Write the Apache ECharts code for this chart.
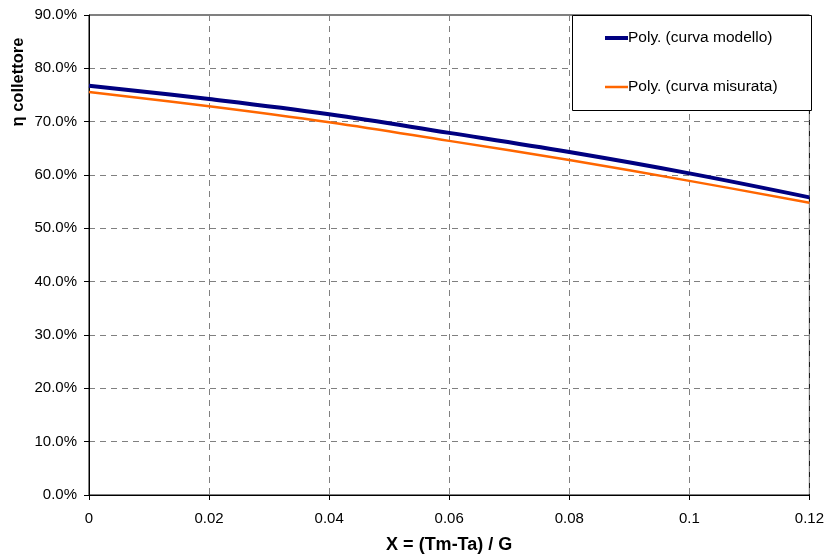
<!DOCTYPE html>
<html>
<head>
<meta charset="utf-8">
<script src="https://cdn.jsdelivr.net/npm/echarts@6/dist/echarts.min.js"></script>
<style>
html,body{margin:0;padding:0;background:#fff;}
#c{width:827px;height:559px;}
</style>
</head>
<body>
<div id="c"></div>
<script>
const xValues = [0, 0.02, 0.04, 0.06, 0.08, 0.10, 0.12];
const modelValues = [76.75, 74.25, 71.4, 67.9, 64.3, 60.3, 55.8];
const measuredValues = [75.55, 72.9, 69.9, 66.4, 62.8, 58.9, 54.8];
const seriesNames = ['Poly. (curva modello)', 'Poly. (curva misurata)'];
const xTitle = 'X = (Tm-Ta) / G';
const yTitle = 'η collettore';

const font = '"Liberation Sans", Arial, sans-serif';
const chart = echarts.init(document.getElementById('c'));
const pairs = v => xValues.map((x, i) => [x, v[i]]);

chart.setOption({
  animation: false,
  grid: {left: 89, top: 15, width: 722, height: 480, containLabel: false,
    show: true, borderColor: '#000', borderWidth: 1, backgroundColor: 'transparent'},
  xAxis: {
    type: 'value', min: 0, max: 0.12, interval: 0.02,
    name: xTitle, nameLocation: 'middle', nameGap: 41,
    nameTextStyle: {fontFamily: font, fontSize: 18, fontWeight: 'bold', color: '#000'},
    axisLine: {show: true, onZero: false, lineStyle: {color: '#000', width: 1}},
    axisTick: {show: true, inside: false, length: 5, lineStyle: {color: '#000'}},
    axisLabel: {fontFamily: font, fontSize: 15, color: '#000', margin: 16,
      formatter: v => String(+v.toFixed(2))},
    splitLine: {show: true, lineStyle: {color: '#808080', type: [6, 5], width: 1}}
  },
  yAxis: {
    type: 'value', min: 0, max: 90, interval: 10,
    axisLine: {show: true, lineStyle: {color: '#000', width: 1}},
    axisTick: {show: true, length: 5, lineStyle: {color: '#000'}},
    axisLabel: {fontFamily: font, fontSize: 15, color: '#000', margin: 12,
      formatter: v => v.toFixed(1) + '%'},
    splitLine: {show: true, lineStyle: {color: '#808080', type: [6, 5], width: 1}}
  },
  legend: {show: false},
  graphic: [
    {type: 'rect', left: 572, top: 15, shape: {width: 239, height: 95},
     style: {fill: '#fff', stroke: '#000', lineWidth: 1}, z: 100},
    {type: 'line', shape: {x1: 605, y1: 38, x2: 628, y2: 38},
     style: {stroke: '#000080', lineWidth: 4}, z: 101},
    {type: 'text', x: 628, y: 38, style: {text: seriesNames[0], font: '15.5px ' + font, fill: '#000', verticalAlign: 'middle'}, z: 101},
    {type: 'line', shape: {x1: 605, y1: 87, x2: 628, y2: 87},
     style: {stroke: '#FF6600', lineWidth: 2.5}, z: 101},
    {type: 'text', x: 628, y: 87, style: {text: seriesNames[1], font: '15.5px ' + font, fill: '#000', verticalAlign: 'middle'}, z: 101},
    {type: 'text', x: 18, y: 82, rotation: Math.PI / 2,
     style: {text: yTitle, font: 'bold 16.5px ' + font, fill: '#000', align: 'center', verticalAlign: 'middle'}, z: 101}
  ],
  series: [
    {name: seriesNames[1], type: 'line', data: pairs(measuredValues), smooth: 0.4, showSymbol: false,
     lineStyle: {color: '#FF6600', width: 2.5}, z: 3},
    {name: seriesNames[0], type: 'line', data: pairs(modelValues), smooth: 0.4, showSymbol: false,
     lineStyle: {color: '#000080', width: 4}, z: 4}
  ]
});
</script>
</body>
</html>
